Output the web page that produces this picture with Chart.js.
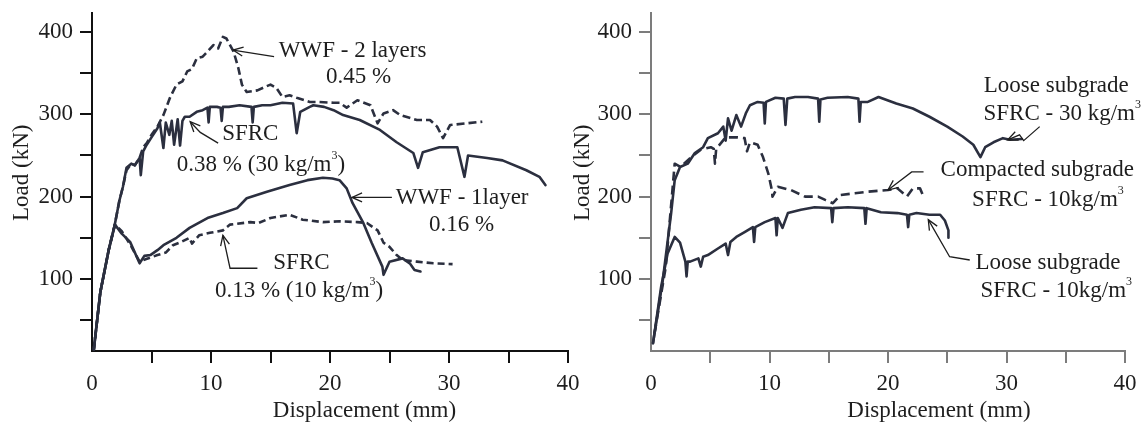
<!DOCTYPE html>
<html>
<head>
<meta charset="utf-8">
<script src="https://cdn.jsdelivr.net/npm/chart.js@4.4.1/dist/chart.umd.min.js"></script>
<style>
  html, body { margin: 0; padding: 0; background: #fff; }
  #wrap { position: relative; width: 1147px; height: 425px; overflow: hidden; background: #fff; }
  canvas { position: absolute; top: 0; }
  #left { left: 0; }
  #right { left: 560px; }
</style>
</head>
<body>
<div id="wrap">
  <canvas id="left" width="582" height="425"></canvas>
  <canvas id="right" width="587" height="425"></canvas>
</div>
<script>
// Axis ticks (displacement in mm, load in kN)
const xTickValues = [0, 5, 10, 15, 20, 25, 30, 35, 40];
const xTickLabels = ['0', '', '10', '', '20', '', '30', '', '40'];
const yTickValues = [50, 100, 150, 200, 250, 300, 350, 400];
const yTickLabels = ['', '100', '', '200', '', '300', '', '400'];

// Left panel: reinforcement type
const wwf2X = [0.15, 0.7, 1.4, 1.9, 2.3, 2.6, 2.9, 3.3, 3.6, 4.0, 4.3, 4.6, 5.0, 5.5, 6.0, 6.55, 7.1, 7.6, 8.0, 8.4, 8.8, 9.3, 9.7, 10.2, 10.6, 11.0, 11.3, 11.9, 12.3, 12.6, 13.0, 13.9, 14.5, 15.0, 15.5, 16.0, 16.6, 17.2, 18.3, 18.9, 20.3, 20.8, 21.4, 22.3, 23.4, 24.0, 24.5, 25.3, 25.9, 27.3, 28.4, 29.0, 29.5, 30.1, 31.5, 32.8];
const wwf2Y = [14, 84, 135, 165, 195, 212, 232, 240, 238, 247, 260, 265, 275, 285, 299, 320, 336, 340, 352, 355, 368, 370, 376, 384, 380, 394, 392, 376, 356, 336, 327, 329, 333, 336, 332, 321, 323, 320, 315, 315, 314, 314, 308, 317, 311, 289, 301, 305, 299, 293, 293, 285, 271, 287, 289, 291];

const sfrc30X = [0.15, 0.7, 1.4, 1.9, 2.3, 2.6, 2.9, 3.3, 3.6, 4.0, 4.1, 4.3, 4.6, 5.0, 5.5, 5.7, 6.0, 6.2, 6.5, 6.7, 6.9, 7.2, 7.4, 7.6, 7.8, 8.2, 8.8, 9.3, 9.7, 9.8, 9.9, 10.5, 10.8, 10.9, 11.0, 11.5, 12.4, 13.4, 13.5, 13.6, 14.3, 15.0, 16.0, 16.9, 17.2, 17.5, 18.3, 18.6, 19.5, 20.3, 21.1, 22.5, 24.2, 25.6, 27.0, 27.4, 27.8, 29.2, 30.7, 31.3, 31.6, 33.2, 34.5, 36.5, 37.6, 38.1];
const sfrc30Y = [14, 84, 135, 165, 195, 212, 235, 240, 238, 247, 226, 255, 263, 272, 283, 290, 259, 290, 275, 292, 263, 294, 262, 292, 297, 297, 303, 305, 308, 290, 309, 309, 308, 292, 309, 309, 311, 309, 290, 309, 311, 311, 314, 313, 277, 303, 309, 311, 309, 305, 299, 293, 281, 266, 253, 235, 254, 260, 260, 224, 250, 247, 244, 232, 224, 214];

const wwf1X = [0.15, 0.7, 1.4, 1.93, 2.5, 3.2, 4.0, 4.4, 4.9, 5.5, 6.0, 7.1, 8.2, 9.7, 11.0, 12.2, 13.0, 14.7, 16.6, 18.1, 19.4, 20.2, 20.8, 21.4, 21.9, 22.8, 23.5, 24.4, 24.5, 25.0, 26.1, 26.7, 27.1, 27.6];
const wwf1Y = [14, 84, 135, 166, 155, 145, 119, 128, 129, 135, 141, 150, 162, 174, 180, 186, 198, 206, 214, 220, 223, 222, 220, 210, 192, 168, 144, 115, 105, 121, 125, 119, 111, 109];

const sfrc10X = [0.15, 0.7, 1.4, 1.93, 2.5, 3.2, 4.0, 4.5, 5.5, 6.2, 6.8, 7.5, 8.2, 8.4, 9.0, 9.9, 11.0, 11.6, 13.3, 14.0, 15.0, 16.6, 17.7, 19.4, 20.8, 22.3, 23.1, 24.0, 24.5, 25.0, 25.6, 26.1, 27.3, 28.7, 30.3];
const sfrc10Y = [14, 84, 135, 166, 158, 142, 121, 124, 129, 132, 141, 145, 150, 143, 153, 156, 159, 166, 169, 168, 174, 178, 172, 169, 170, 169, 168, 159, 144, 139, 129, 123, 121, 119, 118];

// Right panel: subgrade condition
const loose30X = [0.17, 1.0, 1.7, 2.0, 2.45, 3.1, 3.7, 4.4, 4.8, 5.65, 6.1, 6.3, 6.5, 6.8, 7.2, 7.6, 8.0, 8.35, 9.0, 9.5, 9.6, 9.7, 10.5, 11.2, 11.35, 11.5, 12.15, 13.25, 14.1, 14.2, 14.3, 14.9, 16.6, 17.5, 17.6, 17.7, 18.3, 19.2, 20.7, 22.1, 23.5, 25.0, 26.3, 27.2, 27.8, 28.2, 28.9, 29.7, 30.3, 31.3];
const loose30Y = [22, 99, 180, 220, 236, 240, 253, 260, 271, 277, 285, 268, 295, 280, 299, 285, 301, 311, 315, 314, 289, 315, 320, 319, 287, 319, 321, 321, 319, 291, 318, 320, 321, 319, 291, 315, 315, 321, 313, 307, 297, 285, 273, 263, 248, 260, 266, 271, 269, 270];

const compact10X = [0.3, 1.25, 2.0, 2.5, 3.4, 4.2, 5.05, 5.3, 5.4, 5.5, 5.9, 6.3, 7.3, 7.9, 8.1, 8.35, 9.0, 9.45, 9.9, 10.2, 10.25, 10.7, 11.8, 13.0, 14.1, 14.7, 15.35, 16.0, 17.2, 18.3, 20.0, 20.8, 21.6, 22.1, 22.7, 23.0];
const compact10Y = [34, 115, 240, 236, 248, 257, 260, 258, 240, 258, 265, 272, 272, 271, 255, 266, 263, 248, 228, 208, 200, 212, 208, 200, 200, 196, 192, 202, 204, 206, 208, 210, 200, 210, 210, 200];

const loose10X = [0.17, 0.85, 1.4, 2.0, 2.45, 2.9, 3.0, 3.1, 3.3, 4.0, 4.2, 4.4, 4.8, 5.65, 6.3, 6.5, 6.7, 7.2, 7.9, 8.6, 8.7, 8.8, 9.6, 10.5, 10.6, 10.7, 11.1, 11.55, 12.65, 13.8, 15.2, 15.3, 15.4, 16.6, 18.0, 18.1, 18.2, 19.4, 20.8, 21.6, 21.7, 21.8, 22.4, 23.5, 24.4, 24.8, 25.1, 25.1];
const loose10Y = [22, 90, 131, 151, 144, 121, 103, 121, 121, 125, 115, 127, 129, 137, 143, 129, 145, 151, 157, 163, 145, 163, 169, 174, 153, 174, 162, 180, 184, 187, 186, 169, 186, 187, 186, 167, 186, 181, 180, 178, 163, 178, 180, 178, 178, 171, 159, 150];

// Callout texts ('^' marks a superscript character) and arrows, in data units
const leftNotes = [
  { text: 'WWF - 2 layers', at: [21.9, 377] },
  { text: '0.45 %', at: [22.4, 345] },
  { text: 'SFRC', at: [13.3, 276] },
  { text: '0.38 % (30 kg/m^3)', at: [14.2, 239] },
  { text: 'WWF - 1layer', at: [31.1, 198] },
  { text: '0.16 %', at: [31.05, 166] },
  { text: 'SFRC', at: [17.6, 119] },
  { text: '0.13 % (10 kg/m^3)', at: [17.4, 85] }
];
const leftArrows = [
  [[15.3, 370], [11.85, 378]],
  [[10.6, 265], [9.1, 278], [8.25, 291]],
  [[25.2, 199], [21.85, 199]],
  [[13.9, 113], [11.6, 113], [11.0, 153]]
];
const rightNotes = [
  { text: 'Loose subgrade', at: [34.2, 334] },
  { text: 'SFRC - 30 kg/m^3', at: [34.7, 300] },
  { text: 'Compacted subgrade', at: [32.6, 232] },
  { text: 'SFRC - 10kg/m^3', at: [33.5, 196] },
  { text: 'Loose subgrade', at: [33.5, 119] },
  { text: 'SFRC - 10kg/m^3', at: [34.2, 86] }
];
const rightArrows = [
  [[32.8, 285], [31.45, 268], [31.1, 275], [30.1, 269]],
  [[23.0, 230], [22.0, 230], [20.0, 208]],
  [[26.9, 123], [25.2, 127], [23.4, 172]]
];

const LINE = '#2b2f3f';
const TEXT = '#1e1e1e';
const FONT = "'Liberation Serif', 'Times New Roman', serif";
Chart.defaults.font.family = FONT;
Chart.defaults.font.size = 23;
Chart.defaults.color = TEXT;

function drawRich(ctx, text, cx, cy) {
  const parts = [];
  const pieces = text.split('^');
  parts.push({ t: pieces[0], sup: false });
  for (let i = 1; i < pieces.length; i++) {
    parts.push({ t: pieces[i].charAt(0), sup: true });
    if (pieces[i].length > 1) parts.push({ t: pieces[i].slice(1), sup: false });
  }
  const main = '23px ' + FONT, small = '12px ' + FONT;
  let w = 0;
  parts.forEach(p => { ctx.font = p.sup ? small : main; p.w = ctx.measureText(p.t).width; w += p.w; });
  let x = cx - w / 2;
  ctx.textAlign = 'left';
  ctx.textBaseline = 'middle';
  parts.forEach(p => {
    ctx.font = p.sup ? small : main;
    ctx.fillText(p.t, x, p.sup ? cy - 9 : cy);
    x += p.w;
  });
}

function drawArrow(ctx, pts) {
  ctx.beginPath();
  ctx.moveTo(pts[0][0], pts[0][1]);
  for (let i = 1; i < pts.length; i++) ctx.lineTo(pts[i][0], pts[i][1]);
  ctx.stroke();
  const [tx, ty] = pts[pts.length - 1];
  const [px, py] = pts[pts.length - 2];
  const ang = Math.atan2(ty - py, tx - px);
  const len = 11, spread = 0.42;
  ctx.beginPath();
  ctx.moveTo(tx - len * Math.cos(ang - spread), ty - len * Math.sin(ang - spread));
  ctx.lineTo(tx, ty);
  ctx.lineTo(tx - len * Math.cos(ang + spread), ty - len * Math.sin(ang + spread));
  ctx.stroke();
}

const callouts = {
  id: 'callouts',
  afterDraw(chart, args, opts) {
    const ctx = chart.ctx, xs = chart.scales.x, ys = chart.scales.y;
    ctx.save();
    ctx.fillStyle = TEXT;
    ctx.strokeStyle = TEXT;
    ctx.lineWidth = 1.3;
    opts.notes.forEach(n => drawRich(ctx, n.text, xs.getPixelForValue(n.at[0]), ys.getPixelForValue(n.at[1])));
    opts.arrows.forEach(a => drawArrow(ctx, a.map(p => [xs.getPixelForValue(p[0]), ys.getPixelForValue(p[1])])));
    // axis titles
    ctx.font = '23px ' + FONT;
    ctx.textAlign = 'center';
    ctx.textBaseline = 'middle';
    ctx.fillText('Displacement (mm)', xs.getPixelForValue(opts.xTitleAt), 411);
    ctx.translate(opts.yTitleX, ys.getPixelForValue(229));
    ctx.rotate(-Math.PI / 2);
    ctx.fillText('Load (kN)', 0, 0);
    ctx.restore();
  }
};

function series(x, y, dash) {
  return {
    data: x.map((v, i) => ({ x: v, y: y[i] })),
    showLine: true,
    borderColor: LINE,
    borderWidth: 2.6,
    borderDash: dash || [],
    borderCapStyle: dash ? 'butt' : 'round',
    borderJoinStyle: 'round',
    pointRadius: 0,
    tension: 0,
    fill: false
  };
}

function panel(id, datasets, cfg) {
  const gridColor = c => (c.tick && c.tick.value === 0) ? 'rgba(0,0,0,0)' : cfg.axisColor;
  return new Chart(document.getElementById(id), {
    type: 'scatter',
    data: { datasets },
    options: {
      responsive: false,
      animation: false,
      devicePixelRatio: 1,
      layout: { padding: { top: 13, right: cfg.padRight, left: 0, bottom: 0 } },
      plugins: {
        legend: { display: false },
        tooltip: { enabled: false },
        callouts: cfg.callouts
      },
      scales: {
        x: {
          type: 'linear', min: 0, max: 40,
          afterBuildTicks: s => { s.ticks = xTickValues.map(v => ({ value: v })); },
          afterFit: s => { s.height = 74; s.paddingLeft = 0; s.paddingRight = 0; },
          ticks: { callback: (v, i) => xTickLabels[i], padding: 7, maxRotation: 0, autoSkip: false, color: TEXT },
          grid: { display: true, drawOnChartArea: false, drawTicks: true, tickLength: 12, color: gridColor, lineWidth: 2 },
          border: { display: true, color: cfg.axisColor, width: 2 }
        },
        y: {
          type: 'linear', min: 12.5, max: 423,
          afterBuildTicks: s => { s.ticks = yTickValues.map(v => ({ value: v })); },
          afterFit: s => { s.width = cfg.yWidth; s.paddingTop = 0; s.paddingBottom = 0; },
          ticks: { callback: (v, i) => yTickLabels[i], padding: 7, color: TEXT },
          grid: { display: true, drawOnChartArea: false, drawTicks: true, tickLength: 12, color: cfg.axisColor, lineWidth: 2 },
          border: { display: true, color: cfg.axisColor, width: 2 }
        }
      }
    },
    plugins: [callouts]
  });
}

panel('left', [
  series(wwf2X, wwf2Y, [8, 4]),
  series(sfrc30X, sfrc30Y),
  series(wwf1X, wwf1Y),
  series(sfrc10X, sfrc10Y, [7, 4])
], {
  axisColor: '#111111', yWidth: 92, padRight: 14,
  callouts: { notes: leftNotes, arrows: leftArrows, xTitleAt: 22.9, yTitleX: 22 }
});

panel('right', [
  series(loose30X, loose30Y),
  series(compact10X, compact10Y, [9, 5]),
  series(loose10X, loose10Y)
], {
  axisColor: '#7c7c7c', yWidth: 91, padRight: 22,
  callouts: { notes: rightNotes, arrows: rightArrows, xTitleAt: 24.3, yTitleX: 23 }
});
</script>
</body>
</html>
